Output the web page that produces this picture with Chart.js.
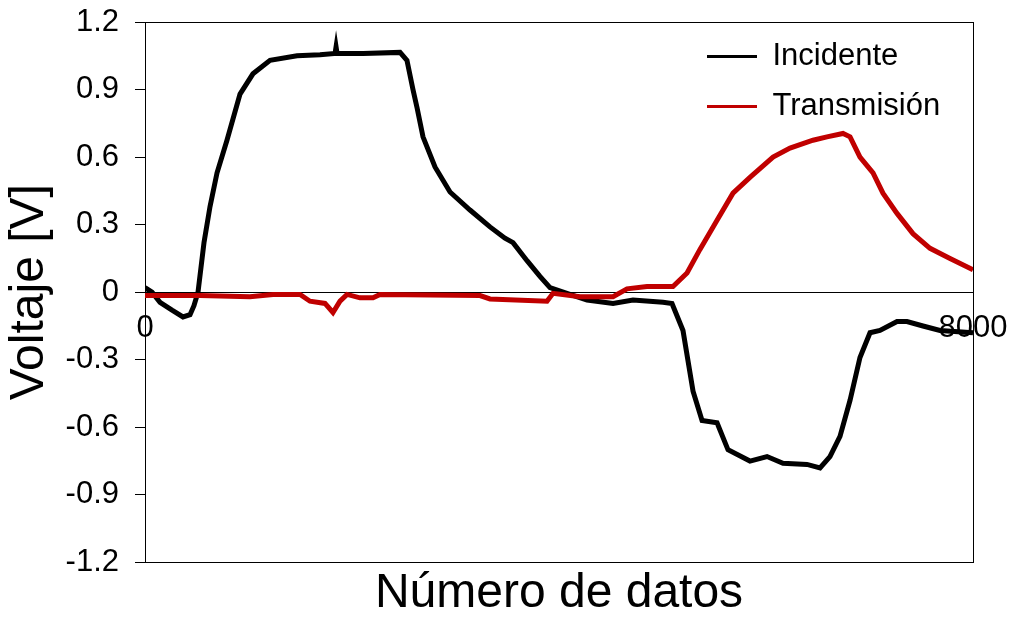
<!DOCTYPE html>
<html>
<head>
<meta charset="utf-8">
<script src="https://cdn.jsdelivr.net/npm/chart.js@4/dist/chart.umd.min.js"></script>
<style>
  body { margin: 0; background: #fff; }
  #wrap { width: 1014px; height: 623px; }
</style>
</head>
<body>
<div id="wrap"><canvas id="voltajeChart" width="1014" height="623"></canvas></div>
<script>
// Número de datos (x) and voltaje (y)
const incidenteX = [0, 68, 145, 261, 367, 435, 473, 512, 570, 628, 696, 792, 918, 1043, 1208, 1469, 1691, 1836, 1846, 1856, 2106, 2464, 2531, 2589, 2628, 2686, 2802, 2947, 3140, 3333, 3478, 3556, 3691, 3816, 3913, 4077, 4271, 4522, 4715, 5005, 5092, 5198, 5295, 5382, 5527, 5633, 5845, 6010, 6164, 6396, 6522, 6618, 6715, 6812, 6908, 7005, 7101, 7266, 7362, 7517, 7681, 8000];
const incidenteY = [0.02, 0.0, -0.045, -0.08, -0.11, -0.1, -0.06, 0.0, 0.22, 0.38, 0.53, 0.675, 0.88, 0.97, 1.03, 1.05, 1.055, 1.06, 1.09, 1.06, 1.06, 1.065, 1.03, 0.9, 0.82, 0.69, 0.556, 0.445, 0.365, 0.29, 0.24, 0.22, 0.14, 0.07, 0.02, -0.005, -0.035, -0.05, -0.035, -0.045, -0.05, -0.17, -0.44, -0.57, -0.58, -0.70, -0.75, -0.73, -0.76, -0.765, -0.78, -0.73, -0.64, -0.48, -0.29, -0.18, -0.17, -0.13, -0.13, -0.15, -0.17, -0.18];

const transmisionX = [0, 531, 1014, 1237, 1498, 1594, 1739, 1816, 1884, 1952, 2077, 2203, 2271, 3237, 3333, 3884, 3942, 4203, 4522, 4657, 4850, 5101, 5237, 5362, 5527, 5681, 5845, 6068, 6232, 6454, 6589, 6744, 6812, 6908, 7034, 7130, 7266, 7420, 7585, 7778, 8000];
const transmisionY = [-0.015, -0.015, -0.02, -0.01, -0.01, -0.04, -0.05, -0.09, -0.04, -0.01, -0.025, -0.025, -0.01, -0.015, -0.03, -0.04, -0.005, -0.02, -0.02, 0.015, 0.025, 0.025, 0.085, 0.19, 0.32, 0.44, 0.51, 0.60, 0.64, 0.675, 0.69, 0.705, 0.69, 0.60, 0.53, 0.44, 0.35, 0.26, 0.195, 0.15, 0.1];

const xTicks = [0, 8000];
const yMin = -1.2, yMax = 1.2, yStep = 0.3;

const toPoints = (xs, ys) => xs.map((x, i) => ({ x: x, y: ys[i] }));

// box around the plot area + move legend inside the plot
const framePlugin = {
    id: 'frame',
    afterLayout(chart) {
        const lg = chart.legend;
        if (lg) {
            lg.left = 688;
            lg.right = lg.left + lg.width;
            lg.top = chart.chartArea.top;
            lg.bottom = lg.top + lg.height;
        }
    },
    beforeDatasetsDraw(chart) {
        const a = chart.chartArea;
        const ctx = chart.ctx;
        ctx.save();
        ctx.strokeStyle = '#000';
        ctx.lineWidth = 1;
        ctx.strokeRect(Math.round(a.left) + 0.5, Math.round(a.top) + 0.5, Math.round(a.right - a.left), Math.round(a.bottom - a.top));
        ctx.restore();
    }
};

new Chart(document.getElementById('voltajeChart'), {
    type: 'line',
    data: {
        datasets: [{
            label: 'Incidente',
            data: toPoints(incidenteX, incidenteY),
            borderColor: '#000000',
            backgroundColor: '#000000',
            borderWidth: 5,
            pointRadius: 0,
            tension: 0,
            order: 2
        }, {
            label: 'Transmisión',
            data: toPoints(transmisionX, transmisionY),
            borderColor: '#C00000',
            backgroundColor: '#C00000',
            borderWidth: 5,
            pointRadius: 0,
            tension: 0,
            order: 1
        }]
    },
    options: {
        responsive: false,
        animation: false,
        layout: { padding: { left: 0, right: 41, top: 22, bottom: 0 } },
        scales: {
            x: {
                type: 'linear',
                position: { y: 0 },
                min: 0,
                max: 8000,
                afterBuildTicks: s => { s.ticks = xTicks.map(v => ({ value: v })); },
                afterFit: s => { s.paddingLeft = 0; s.paddingRight = 0; },
                grid: { display: false, drawTicks: false },
                border: { display: true, color: '#000', width: 1 },
                ticks: {
                    color: '#000',
                    padding: 18,
                    maxRotation: 0,
                    autoSkip: false,
                    font: { family: 'Liberation Sans', size: 31 },
                    callback: v => String(v)
                }
            },
            y: {
                min: yMin,
                max: yMax,
                afterFit: s => { s.width = 145; s.paddingTop = 0; s.paddingBottom = 0; },
                grid: { drawOnChartArea: false, drawTicks: true, tickLength: 10, color: '#000' },
                border: { display: true, color: '#000', width: 1 },
                ticks: {
                    stepSize: yStep,
                    color: '#000',
                    padding: 16,
                    font: { family: 'Liberation Sans', size: 31 }
                },
                title: {
                    display: true,
                    text: 'Voltaje [V]',
                    color: '#000',
                    padding: { top: 1, bottom: 0 },
                    font: { family: 'Liberation Sans', size: 48 }
                }
            }
        },
        plugins: {
            legend: {
                position: 'chartArea',
                align: 'start',
                labels: {
                    usePointStyle: true,
                    pointStyle: 'line',
                    pointStyleWidth: 50,
                    padding: 19,
                    color: '#000',
                    font: { family: 'Liberation Sans', size: 31 },
                    sort: (a, b) => a.datasetIndex - b.datasetIndex,
                    generateLabels: chart => Chart.defaults.plugins.legend.labels.generateLabels(chart)
                        .map(item => Object.assign(item, { lineWidth: 3 }))
                }
            },
            title: {
                display: true,
                position: 'bottom',
                fullSize: false,
                text: 'Número de datos',
                color: '#000',
                padding: { top: 3, bottom: 0 },
                font: { family: 'Liberation Sans', size: 48, weight: 'normal' }
            },
            tooltip: { enabled: false }
        }
    },
    plugins: [framePlugin]
});
</script>
</body>
</html>
